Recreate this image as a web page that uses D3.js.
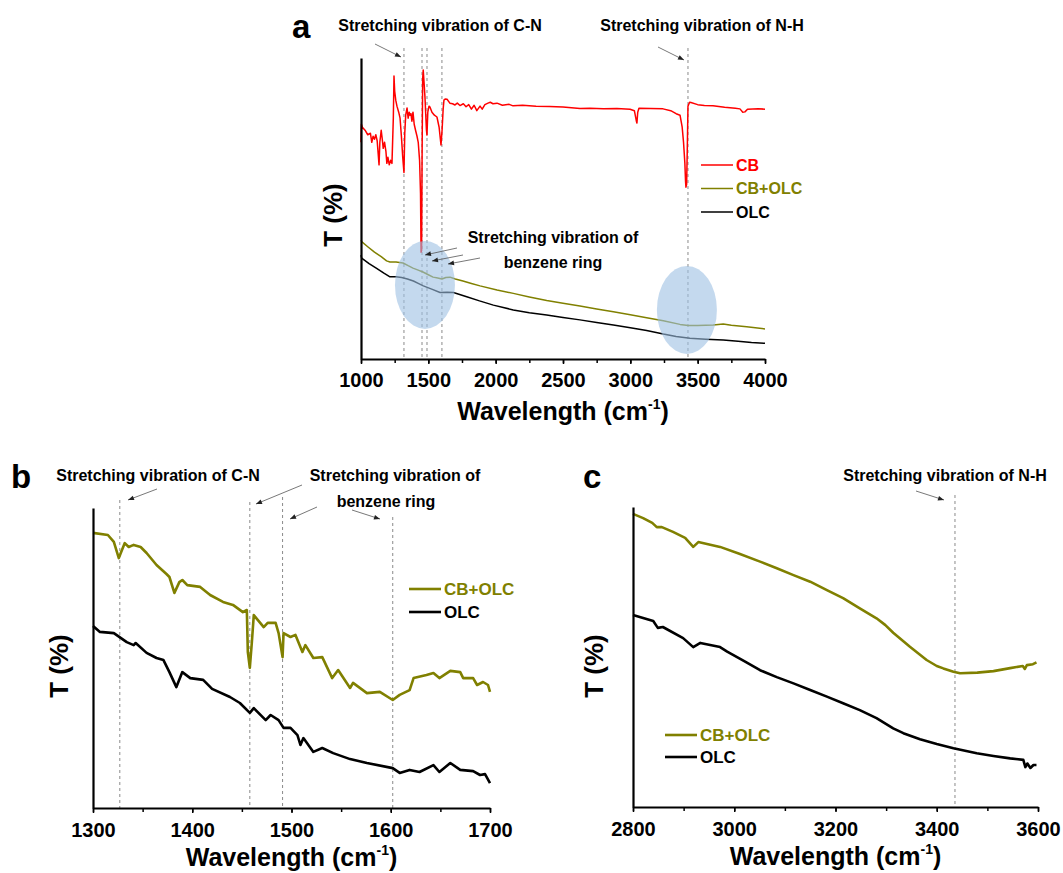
<!DOCTYPE html>
<html><head><meta charset="utf-8">
<script src="https://cdn.jsdelivr.net/npm/d3@7"></script>
<style>
body{margin:0;background:#fff;}
svg text{font-family:Arial,"Liberation Sans",sans-serif;}
</style>
</head><body>
<svg id="chart" width="1063" height="873"></svg>
<script>
// ---------- DATA ----------
// Panel a: full spectrum 1000-4000 cm-1 (T in arbitrary %)
const cbA = [[1000,72],[1003,78],[1010,77],[1030,76],[1050,74.5],[1070,75],[1080,72],[1090,74],[1100,73],[1110,74.5],[1120,72.5],[1128,68],[1134,64.5],[1140,72],[1150,76],[1158,73],[1165,70],[1175,72],[1185,69],[1192,65],[1200,67],[1210,64.5],[1220,66],[1230,65],[1240,80],[1245,94],[1250,89],[1258,86],[1267,84],[1280,82],[1290,80],[1300,74],[1310,67],[1319,62],[1325,75],[1332,81],[1342,83.4],[1350,80],[1358,82],[1365,81],[1371,81.5],[1378,79],[1386,82],[1395,78],[1405,76],[1416,74],[1425,72],[1435,66],[1442,55],[1446,35.5],[1450,36],[1454,70],[1458,93],[1462,96],[1468,92],[1475,87],[1480,82],[1486,76],[1490,74.4],[1496,82],[1505,84],[1512,83.7],[1527,82],[1545,81],[1564,80.4],[1580,77],[1594,71.1],[1602,76],[1610,83],[1616,86],[1625,86.4],[1639,86.3],[1660,85],[1680,84.8],[1698,84.4],[1715,85],[1735,84.2],[1760,84.8],[1780,83.8],[1800,84.5],[1820,83],[1840,84.3],[1860,82.5],[1884,84],[1900,83],[1920,84.5],[1943,85],[1960,85.3],[1980,84.8],[2010,85],[2050,84.3],[2100,84.6],[2129,84.1],[2200,84.3],[2300,84],[2400,83.9],[2500,83.7],[2626,83.2],[2700,83.3],[2800,83.1],[2900,83.2],[2998,83.0],[3030,82.5],[3045,79],[3049,78.4],[3055,82],[3064,83.3],[3150,83.2],[3243,83.1],[3300,82.5],[3340,81.5],[3369,81.0],[3385,77],[3395,72],[3405,65],[3410,59],[3413,57.1],[3418,58],[3423,70],[3428,84],[3440,85.3],[3450,85.2],[3500,84.5],[3550,84.2],[3614,84.1],[3700,83.6],[3780,83.3],[3814,83.1],[3835,82.0],[3851,82.1],[3870,83],[3950,83.1],[4000,83.0]];
const cbolcA = [[1000,39.5],[1007,38.9],[1050,37.3],[1100,35.5],[1150,34],[1190,32.6],[1215,32.2],[1260,32.2],[1312,31.9],[1350,31],[1386,30.2],[1420,29.6],[1460,28.9],[1500,28],[1535,27.2],[1570,26.9],[1601,26.6],[1630,27.1],[1661,27.2],[1700,26.6],[1757,25.9],[1820,25.1],[1884,24.3],[2010,22.9],[2131,21.8],[2250,20.6],[2379,19.4],[2500,18.5],[2626,17.6],[2750,16.6],[2874,15.7],[3000,14.7],[3121,13.7],[3245,12.7],[3369,11.5],[3430,11.1],[3500,11.1],[3616,11.3],[3690,11.6],[3750,11.2],[3864,10.7],[4000,10.0]];
const olcA = [[1000,34.5],[1005,33.5],[1060,31.7],[1116,30.1],[1170,28.5],[1215,27.3],[1260,27.3],[1302,27.1],[1345,26.6],[1389,25.9],[1425,25.1],[1463,24.3],[1525,23.2],[1587,22.1],[1640,22.2],[1686,22.1],[1785,20.7],[1880,19.3],[1983,17.9],[2131,16.3],[2250,15.4],[2379,14.6],[2500,13.8],[2626,13.0],[2750,12.1],[2874,11.3],[3000,10.4],[3121,9.5],[3245,8.3],[3340,7.5],[3443,6.9],[3560,6.6],[3690,6.3],[3800,5.9],[3900,5.5],[4000,5.2]];
const peaksA = [1319,1453,1490,1601,3428];
const ellipsesA = [[1475,24.6],[3420,16.3]];
const ticksA = [1000,1500,2000,2500,3000,3500,4000];

// Panel b: 1300-1700 cm-1
const cbolcB = [[1300,91.7],[1315,91],[1321,88.7],[1326,83.3],[1328,85],[1332,88.3],[1336,87],[1341,87.7],[1348,87],[1354,85],[1364,81],[1374,78],[1377,77],[1382,71.7],[1387,75.3],[1390,76],[1395,74.3],[1408,73.7],[1418,71],[1431,68.7],[1441,67.7],[1451,65.3],[1455,66],[1456,52],[1458,46.7],[1460,55],[1462,64.3],[1472,60.3],[1476,61.7],[1484,61.7],[1487,58.3],[1491,50.3],[1492,58.3],[1499,57],[1504,57.7],[1511,52],[1514,54.3],[1522,50],[1531,50.3],[1541,43.3],[1547,46],[1559,40],[1562,41.7],[1576,38.3],[1589,38.7],[1602,36],[1609,37.7],[1619,39.3],[1623,43.3],[1636,44.3],[1643,45],[1649,43.3],[1660,45.7],[1670,45.3],[1673,43.3],[1683,43.3],[1687,41],[1693,42],[1698,41],[1700,38.7]];
const olcB = [[1300,60.7],[1307,58.7],[1321,58.3],[1334,55.3],[1341,54.3],[1343,55],[1354,51.7],[1364,50],[1371,49.3],[1377,45.3],[1384,40.3],[1390,45.3],[1398,43.3],[1411,42.7],[1420,39.7],[1438,37],[1448,35],[1458,31.7],[1462,33.3],[1474,29.3],[1479,31],[1487,29.3],[1492,26.7],[1499,26.7],[1506,24.3],[1509,21],[1512,23.3],[1522,18.7],[1531,20],[1542,18.3],[1559,16.3],[1576,15],[1602,13.3],[1609,11.7],[1619,12.7],[1629,12],[1643,14.3],[1649,12],[1660,15],[1670,12.7],[1683,12.3],[1690,11],[1695,11.3],[1700,8.3]];
const peaksB = [1327,1458,1491,1602];
const ticksB = [1300,1400,1500,1600,1700];

// Panel c: 2800-3600 cm-1
const cbolcC = [[2800,97.7],[2820,96.3],[2838,94.7],[2847,93.3],[2857,93.3],[2879,91.7],[2903,89.7],[2919,86.7],[2929,88.3],[2972,86.7],[3010,84.4],[3051,81.8],[3084,79.6],[3117,77.3],[3150,75.1],[3183,72.3],[3215,69.6],[3248,66.2],[3281,62.9],[3298,60.7],[3314,58.1],[3347,53.4],[3380,49],[3400,47],[3413,46.2],[3433,45.1],[3446,44.6],[3480,44.8],[3512,45.3],[3545,46.3],[3570,47],[3574,46],[3578,47.3],[3590,47.6],[3597,48.2]];
const olcC = [[2800,64],[2840,62],[2849,59.7],[2859,60],[2899,56.3],[2919,53.3],[2933,54.7],[2972,53.3],[2986,51.8],[3018,48.8],[3051,45.6],[3084,43.3],[3117,41.2],[3150,39],[3183,36.8],[3215,34.6],[3248,32.3],[3281,29.6],[3314,26.2],[3334,24.6],[3367,22.6],[3400,21],[3433,19.6],[3479,17.9],[3512,17],[3545,16.2],[3571,15.7],[3575,13.3],[3579,14.5],[3585,13],[3591,14],[3597,14]];
const peaksC = [3436];
const ticksC = [2800,3000,3200,3400,3600];

const colors = {"CB":"#ff0000","CB+OLC":"#808000","OLC":"#000000"};

// ---------- DRAW ----------
const svg = d3.select("#chart");

function panel(cfg){
  const g = svg.append("g");
  const x = d3.scaleLinear().domain(cfg.xdom).range([cfg.x0, cfg.x1]);
  const y = d3.scaleLinear().domain([0,100]).range([cfg.y0, cfg.y1]);
  const line = d3.line().x(d=>x(d[0])).y(d=>y(d[1]));

  g.selectAll(".pk").data(cfg.peaks).enter().append("line")
    .attr("x1",(d)=>x(d)).attr("x2",(d)=>x(d))
    .attr("y1",(d,i)=>cfg.peakTop[i]).attr("y2",cfg.y0)
    .attr("stroke","#8a8a8a").attr("stroke-width",1).attr("stroke-dasharray","3,3");

  cfg.series.forEach(s=>{
    g.append("path").datum(s.data).attr("d",line).attr("fill","none")
      .attr("stroke",colors[s.name]).attr("stroke-width",cfg.lw).attr("stroke-linejoin","round");
  });

  if(cfg.ellipses){
    g.selectAll(".el").data(cfg.ellipses).enter().append("ellipse")
      .attr("cx",d=>x(d[0])).attr("cy",d=>y(d[1])).attr("rx",30).attr("ry",44)
      .attr("fill","#9dc0e3").attr("fill-opacity",0.6);
  }

  const ax = g.append("g").attr("transform",`translate(0,${cfg.y0})`)
    .call(d3.axisBottom(x).tickValues(cfg.minor).tickSize(cfg.minorLen).tickSizeOuter(0).tickFormat(""));
  ax.selectAll("line").attr("stroke-width",1.5);
  ax.select(".domain").remove();
  const axM = g.append("g").attr("transform",`translate(0,${cfg.y0})`)
    .call(d3.axisBottom(x).tickValues(cfg.ticks).tickSize(cfg.majorLen).tickPadding(cfg.pad).tickSizeOuter(0).tickFormat(d3.format("d")));
  axM.select(".domain").attr("stroke-width",2.2);
  axM.selectAll("line").attr("stroke-width",1.5);
  axM.selectAll("text").attr("font-size",20).attr("font-weight","bold").attr("fill","#000");
  const ay = g.append("g").attr("transform",`translate(${cfg.x0},0)`)
    .call(d3.axisLeft(y).tickValues([]).tickSizeOuter(0));
  ay.select(".domain").attr("stroke-width",2.2);

  const t = g.append("text").attr("x",(cfg.x0+cfg.x1)/2).attr("y",cfg.titleY)
    .attr("text-anchor","middle").attr("font-size",25).attr("font-weight","bold");
  t.append("tspan").text("Wavelength (cm");
  t.append("tspan").attr("font-size",14).attr("dy",-11).text("-1");
  t.append("tspan").attr("dy",11).text(")");
  g.append("text").attr("transform",`translate(${cfg.yTitleX},${cfg.yTitleY}) rotate(-90)`)
    .attr("text-anchor","middle").attr("font-size",26).attr("font-weight","bold").text("T (%)");
  g.append("text").attr("x",cfg.letter[0]).attr("y",cfg.letter[1]).attr("font-size",33)
    .attr("font-weight","bold").text(cfg.letter[2]);

  cfg.series.forEach((s,i)=>{
    const ly = cfg.leg[1] + i*cfg.leg[2];
    g.append("line").attr("x1",cfg.leg[0]).attr("x2",cfg.leg[0]+32).attr("y1",ly).attr("y2",ly)
      .attr("stroke",colors[s.name]).attr("stroke-width",cfg.lw);
    g.append("text").attr("x",cfg.leg[0]+35).attr("y",ly).attr("dy","0.36em")
      .attr("font-size",cfg.legFont).attr("font-weight","bold")
      .attr("fill",colors[s.name]).text(s.name);
  });
  return g;
}

svg.append("defs").append("marker").attr("id","ah").attr("viewBox","0 0 10 10")
  .attr("refX",10).attr("refY",5).attr("markerWidth",7).attr("markerHeight",6).attr("orient","auto")
  .attr("markerUnits","userSpaceOnUse")
  .append("path").attr("d","M0,1 L10,5 L0,9 z").attr("fill","#222");

function arrow(x1,y1,x2,y2){
  svg.append("line").attr("x1",x1).attr("y1",y1).attr("x2",x2).attr("y2",y2)
    .attr("stroke","#555").attr("stroke-width",0.8).attr("marker-end","url(#ah)");
}
function label(x,y,txt){
  svg.append("text").attr("x",x).attr("y",y).attr("text-anchor","middle")
    .attr("font-size",16).attr("font-weight","bold").text(txt);
}

panel({xdom:[1000,4000],x0:361,x1:765,y0:359,y1:58,lw:1.5,
  series:[{name:"CB",data:cbA},{name:"CB+OLC",data:cbolcA},{name:"OLC",data:olcA}],
  peaks:peaksA,peakTop:[48,48,48,48,48],ellipses:ellipsesA,
  ticks:ticksA,minor:d3.range(1000,4001,250),minorLen:4,majorLen:5,pad:9,
  titleY:420,yTitleX:342,yTitleY:215,letter:[292,38,"a"],
  leg:[701,165,23.5],legFont:16});

panel({xdom:[1300,1700],x0:93,x1:490,y0:808,y1:508,lw:2.6,
  series:[{name:"CB+OLC",data:cbolcB},{name:"OLC",data:olcB}],
  peaks:peaksB,peakTop:[500,502,497,517],
  ticks:ticksB,minor:d3.range(1300,1701,50),minorLen:4,majorLen:5,pad:10,
  titleY:866,yTitleX:68,yTitleY:666,letter:[11,488,"b"],
  leg:[409,589,23],legFont:17});

panel({xdom:[2800,3600],x0:633,x1:1038,y0:807,y1:507,lw:2.6,
  series:[{name:"CB+OLC",data:cbolcC},{name:"OLC",data:olcC}],
  peaks:peaksC,peakTop:[495],
  ticks:ticksC,minor:d3.range(2800,3601,100),minorLen:4,majorLen:5,pad:10,
  titleY:865,yTitleX:603,yTitleY:666,letter:[583,488,"c"],
  leg:[665,735,22],legFont:17});

label(440,31,"Stretching vibration of C-N");
label(702,31,"Stretching vibration of N-H");
arrow(375,44,401,57);
arrow(658,47,684,60);
label(553,243,"Stretching vibration of");
label(553,268,"benzene ring");
arrow(457,248,425,255);
arrow(463,255,432,261);
arrow(480,258,448,264);
label(158,481,"Stretching vibration of C-N");
label(395,481,"Stretching vibration of");
label(386,507,"benzene ring");
arrow(157,489,128,500);
arrow(302,485,256,504);
arrow(317,507,290,519);
arrow(352,510,380,519);
label(945,481,"Stretching vibration of N-H");
arrow(916,491,944,500);
</script>
</body></html>
